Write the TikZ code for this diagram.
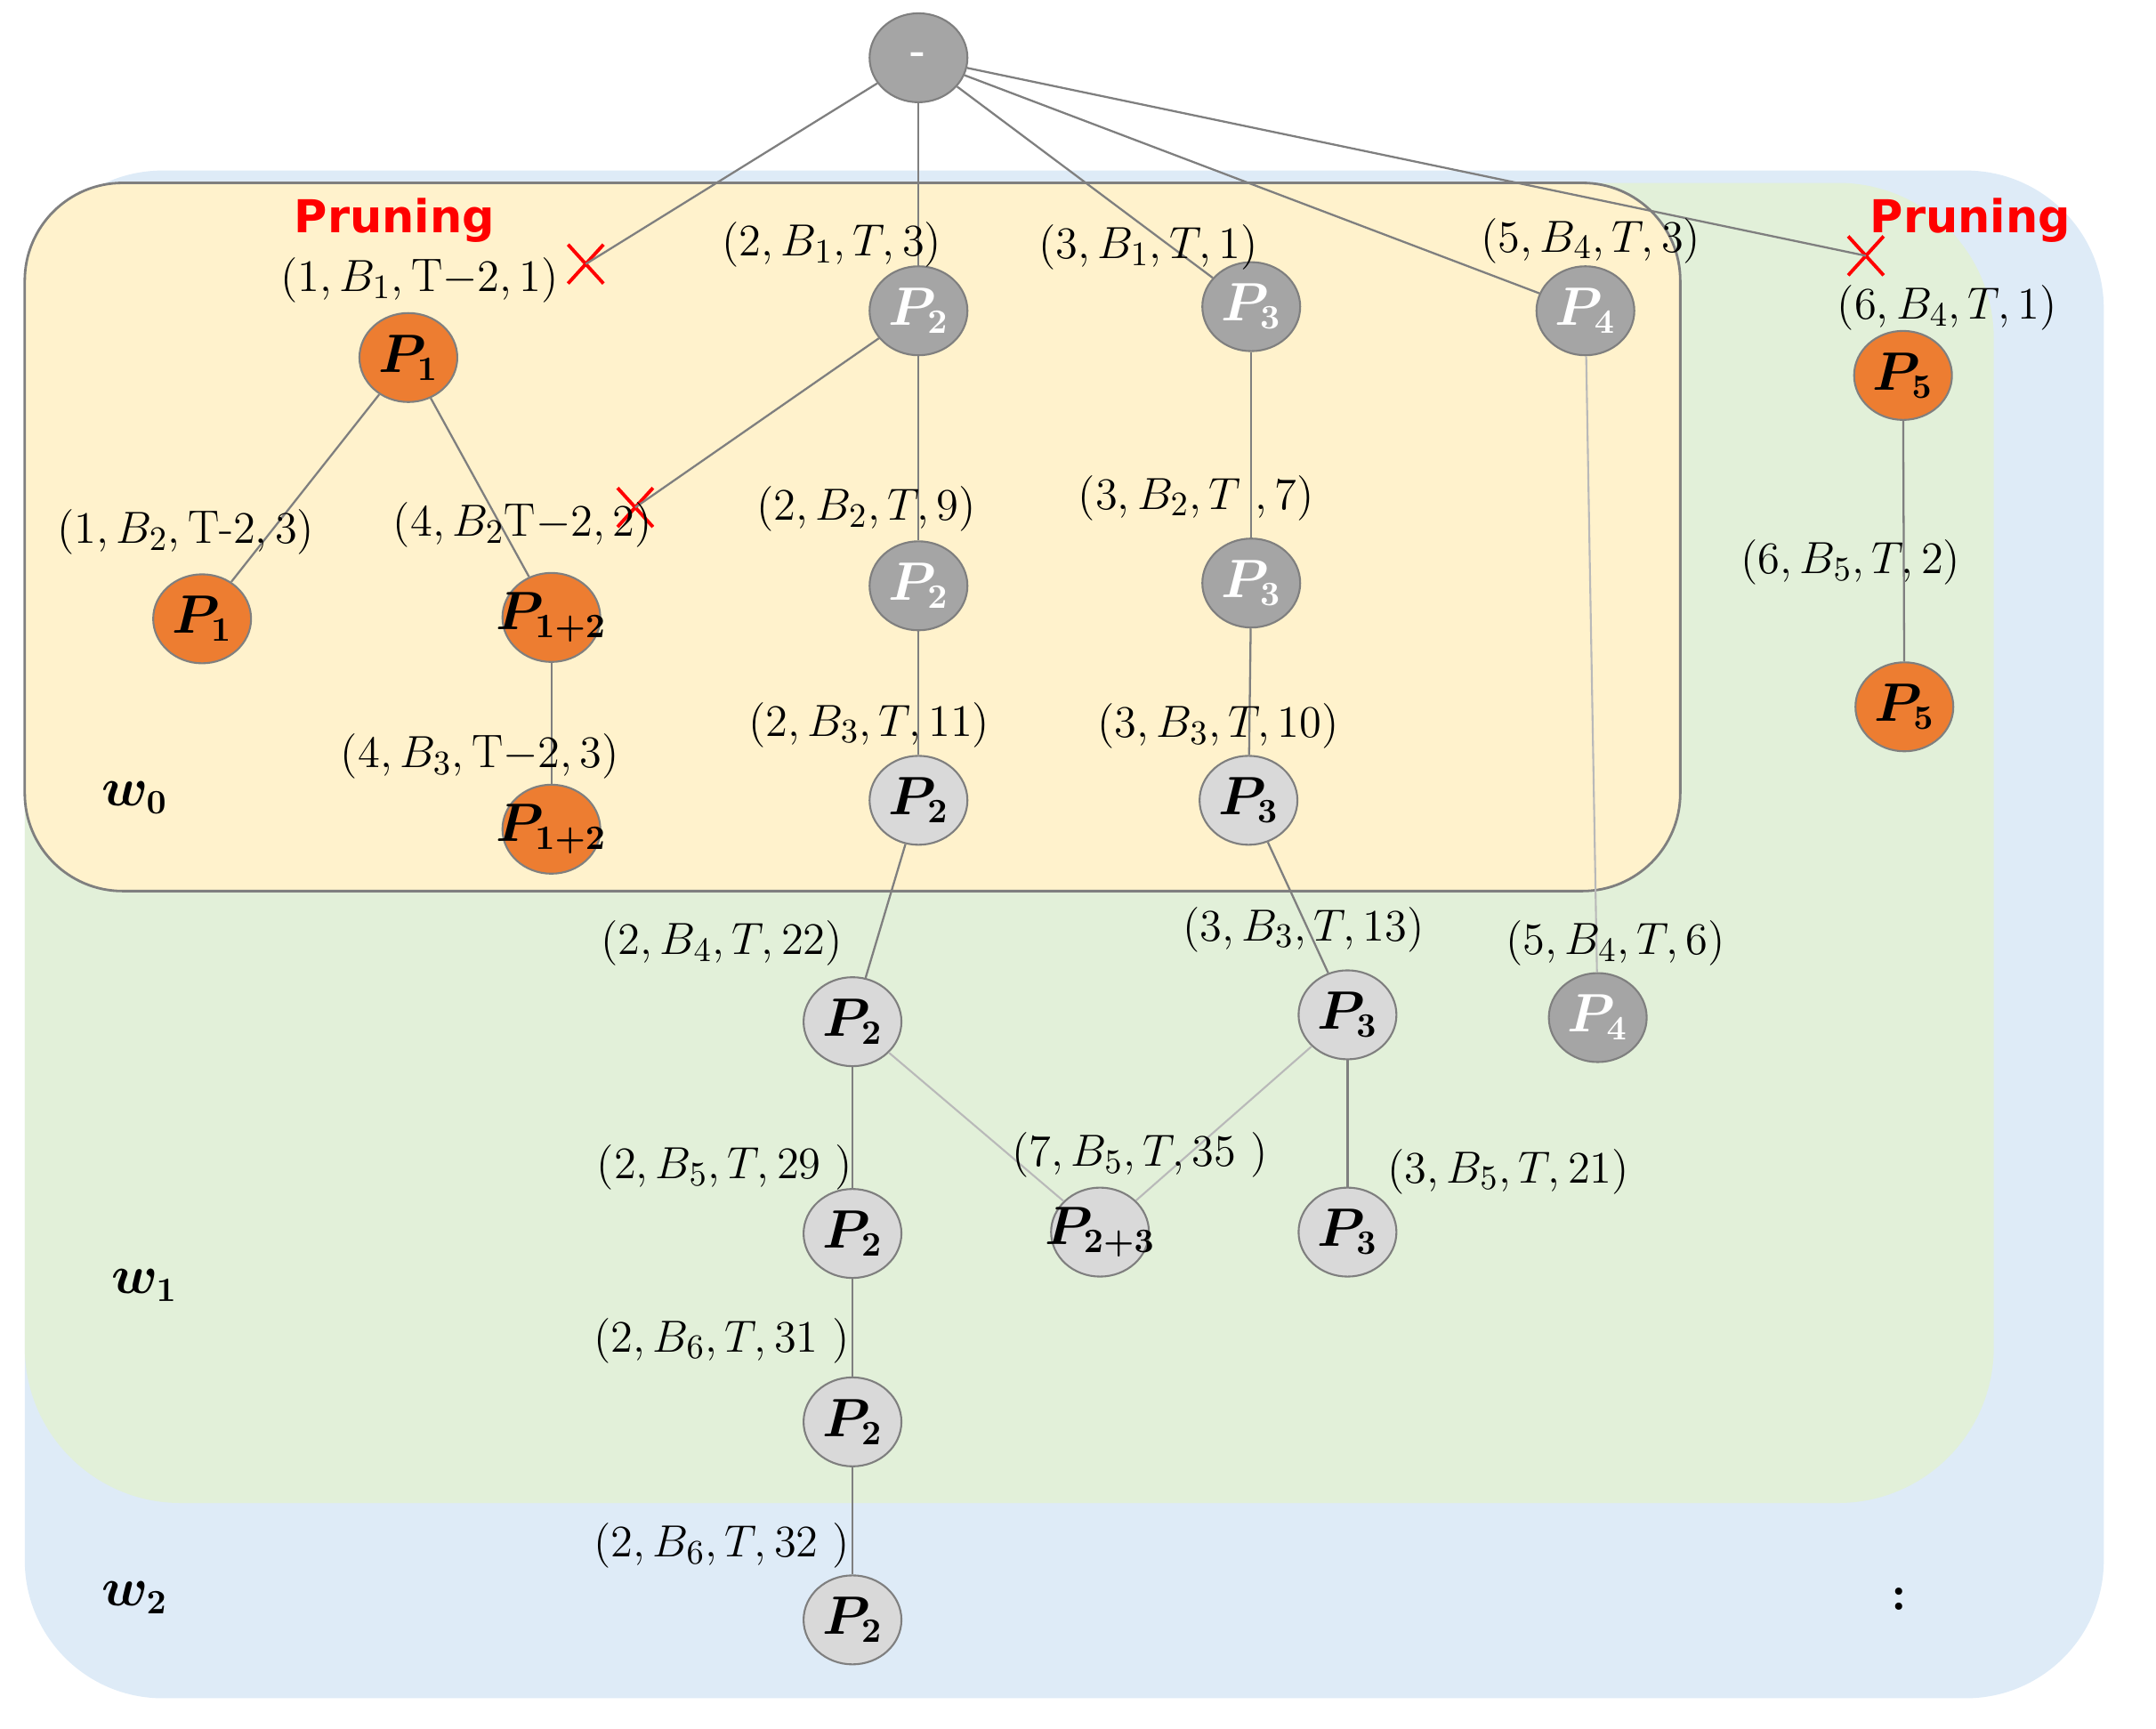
\documentclass[tikz,border=0pt]{standalone}
\usepackage{fontspec}
\usepackage{bm}
\usetikzlibrary{shapes.geometric,shapes.misc}
\newfontfamily\prunefont{DejaVu Sans}
\definecolor{bgblue}{HTML}{DEEBF7}
\definecolor{bggreen}{HTML}{E2F0D9}
\definecolor{bgyellow}{HTML}{FFF2CC}
\definecolor{orng}{HTML}{ED7D31}
\definecolor{dgray}{HTML}{A5A5A5}
\definecolor{lgray}{HTML}{D9D9D9}
\definecolor{edgec}{HTML}{7F7F7F}
\newcommand\pl[1]{\makebox[0pt]{$\bm{P_{#1}}$}}
\begin{document}
\begin{tikzpicture}[x=0.015453cm,y=-0.015453cm,
  pnode/.style={ellipse,draw=edgec,line width=0.6pt,minimum width=1.1cm,minimum height=1.0cm,inner sep=0pt,font=\fontsize{16}{18}\selectfont},
  onode/.style={pnode,fill=orng,text=black},
  dnode/.style={pnode,fill=dgray,text=white},
  lnode/.style={pnode,fill=lgray,text=black},
  lab/.style={inner sep=0pt,font=\fontsize{15}{18}\selectfont},
  wlab/.style={inner sep=0pt,font=\fontsize{16}{18}\selectfont},
  prune/.style={inner sep=0pt,text=red,font=\fontsize{14.5}{17}\prunefont\bfseries},
  xmark/.style={cross out,draw=red,line width=1.1pt,minimum width=0.36cm,minimum height=0.4cm,inner sep=0pt},
  edge/.style={draw=edgec,line width=0.65pt},
  ledge/.style={draw=edgec!55,line width=0.6pt}]
\useasboundingbox (0,0) rectangle (1568,1257);
% backgrounds
\fill[bgblue,rounded corners=1.55cm] (18,124) rectangle (1530,1235);
\fill[bggreen,rounded corners=1.75cm] (18,133) rectangle (1450,1093);
\filldraw[fill=bgyellow,draw=edgec,line width=0.8pt,rounded corners=1.1cm] (18,133) rectangle (1222,648);
% nodes
\node[dnode] (root) at (668,42) {\fontsize{13}{15}\selectfont\bfseries -};
\node[onode] (P1a) at (297,260) {\pl{1}};
\node[onode] (P1b) at (147,450) {\pl{1}};
\node[onode] (P12a) at (401,449) {\pl{1+2}};
\node[onode] (P12b) at (401,603) {\pl{1+2}};
\node[dnode] (P2a) at (668,226) {\pl{2}};
\node[dnode] (P2b) at (668,426) {\pl{2}};
\node[lnode] (P2c) at (668,582) {\pl{2}};
\node[dnode] (P3a) at (910,223) {\pl{3}};
\node[dnode] (P3b) at (910,424) {\pl{3}};
\node[lnode] (P3c) at (908,582) {\pl{3}};
\node[dnode] (P4a) at (1153,226) {\pl{4}};
\node[dnode] (P4b) at (1162,740) {\pl{4}};
\node[onode] (P5a) at (1384,273) {\pl{5}};
\node[onode] (P5b) at (1385,514) {\pl{5}};
\node[lnode] (P2d) at (620,743) {\pl{2}};
\node[lnode] (P3d) at (980,738) {\pl{3}};
\node[lnode] (P2e) at (620,897) {\pl{2}};
\node[lnode] (P23) at (800,896) {\pl{2+3}};
\node[lnode] (P3e) at (980,896) {\pl{3}};
\node[lnode] (P2f) at (620,1034) {\pl{2}};
\node[lnode] (P2g) at (620,1178) {\pl{2}};
% pruning marks
\node[xmark] (xa) at (426,192) {};
\node[xmark] (xb) at (462,369) {};
\node[xmark] (xc) at (1357,186) {};
\node[prune] (pra) at (287,160) {Pruning};
\node[prune] (prb) at (1433,160) {Pruning};
% edges
\draw[edge] (root) -- (xa.center);
\draw[edge] (root) -- (P2a);
\draw[edge] (root) -- (P3a);
\draw[edge] (root) -- (P4a);
\draw[edge] (root) -- (xc.center);
\draw[edge] (P1a) -- (P1b);
\draw[edge] (P1a) -- (P12a);
\draw[edge] (P12a) -- (P12b);
\draw[edge] (P2a) -- (xb.center);
\draw[edge] (P2a) -- (P2b);
\draw[edge] (P2b) -- (P2c);
\draw[edge] (P2c) -- (P2d);
\draw[edge] (P3a) -- (P3b);
\draw[edge] (P3b) -- (P3c);
\draw[edge] (P3c) -- (P3d);
\draw[ledge] (P4a) -- (P4b);
\draw[edge] (P5a) -- (P5b);
\draw[edge] (P2d) -- (P2e);
\draw[ledge] (P2d) -- (P23);
\draw[ledge] (P3d) -- (P23);
\draw[edge] (P3d) -- (P3e);
\draw[edge] (P2e) -- (P2f);
\draw[edge] (P2f) -- (P2g);
% tuple labels
\node[lab] (t1) at (305,204) {$(1, B_1,\mathrm{T}{-}2, 1)$};
\node[lab] (t2) at (605,178) {$(2, B_1, T ,3)$};
\node[lab] (t3) at (835,180) {$(3,B_1,T, 1)$};
\node[lab] (t4) at (1157,175) {$(5,B_4,T,3)$};
\node[lab] (t5) at (1416,224) {$(6,B_4,T,1)$};
\node[lab] (t6) at (135,387) {$(1, B_2, \mathrm{T}\mbox{-}2, 3)$};
\node[lab] (t7) at (380,382) {$(4, B_2 \mathrm{T}{-}2, 2)$};
\node[lab] (t8) at (630,370) {$(2, B_2, T,9)$};
\node[lab] (t9) at (870,362) {$(3, B_2, T\ ,7)$};
\node[lab] (t10) at (1346,409) {$(6,B_5,T, 2)$};
\node[lab] (t11) at (632,527) {$(2, B_3, T, 11)$};
\node[lab] (t12) at (886,528) {$(3, B_3, T, 10)$};
\node[lab] (t13) at (349,550) {$(4, B_3, \mathrm{T}{-}2, 3)$};
\node[lab] (t14) at (525,686) {$(2,B_4,T,22)$};
\node[lab] (t15) at (948,676) {$(3, B_3, T, 13)$};
\node[lab] (t16) at (1175,686) {$(5,B_4,T,6)$};
\node[lab] (t17) at (527,849) {$(2,B_5,T,29\ )$};
\node[lab] (t18) at (829,840) {$(7,B_5,T,35\ )$};
\node[lab] (t19) at (1097,852) {$(3, B_5,T,21)$};
\node[lab] (t20) at (525,975) {$(2,B_6,T,31\ )$};
\node[lab] (t21) at (525,1124) {$(2,B_6,T,32\ )$};
% window labels
\node[wlab] (w0) at (98,580) {$\bm{w_0}$};
\node[wlab] (w1) at (105,935) {$\bm{w_1}$};
\node[wlab] (w2) at (98,1162) {$\bm{w_2}$};
\node[wlab] (dots) at (1381,1163) {\textbf{:}};
\end{tikzpicture}
\end{document}
